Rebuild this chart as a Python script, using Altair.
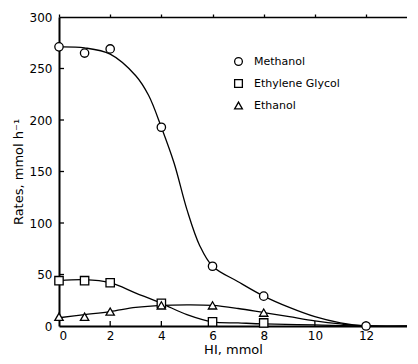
import altair as alt
import pandas as pd

# measured points
hi_meoh = [0, 1, 2, 4, 6, 8, 12]
rate_meoh = [271, 265, 269, 193, 58, 29, 0]
hi_eg = [0, 1, 2, 4, 6, 8]
rate_eg = [44, 44, 42, 22, 4, 3]
hi_etoh = [0, 1, 2, 4, 6, 8]
rate_etoh = [9, 9, 14, 20, 20, 13]

# fitted curves
curve_x_meoh = [0, 1, 2, 3, 3.5, 4, 4.5, 5, 5.5, 6, 7, 8, 9, 10, 11, 12, 14]
curve_y_meoh = [271, 270, 264, 243, 224, 193, 158, 113, 78, 58, 43, 29, 18, 9, 3, 0, 0]
curve_x_eg = [0, 1, 2, 3, 4, 5, 6, 7, 8, 10, 12, 14]
curve_y_eg = [44, 45, 42, 32, 22, 11, 4, 3, 2, 1, 0, 0]
curve_x_etoh = [0, 1, 2, 3, 4, 5, 6, 7, 8, 9, 10, 11, 12, 14]
curve_y_etoh = [8, 11, 14, 18, 20, 20.5, 20, 17, 13, 9, 5, 2, 0, 0]

series = ["Methanol", "Ethylene Glycol", "Ethanol"]
shapes = ["circle", "square", "triangle-up"]
inks = ["black", "black", "black"]

x_ticks = [0, 2, 4, 6, 8, 10, 12]
y_ticks = [0, 50, 100, 150, 200, 250, 300]

pts = pd.concat([
    pd.DataFrame({"HI": hi_meoh, "Rate": rate_meoh, "Series": series[0]}),
    pd.DataFrame({"HI": hi_eg, "Rate": rate_eg, "Series": series[1]}),
    pd.DataFrame({"HI": hi_etoh, "Rate": rate_etoh, "Series": series[2]}),
])
curves = pd.concat([
    pd.DataFrame({"HI": curve_x_meoh, "Rate": curve_y_meoh, "Series": series[0]}),
    pd.DataFrame({"HI": curve_x_eg, "Rate": curve_y_eg, "Series": series[1]}),
    pd.DataFrame({"HI": curve_x_etoh, "Rate": curve_y_etoh, "Series": series[2]}),
])
xt = pd.DataFrame({"HI": x_ticks[1:]})
yt = pd.DataFrame({"Rate": y_ticks[1:-1]})

xs = alt.Scale(domain=[0, 13.6], nice=False)
ys = alt.Scale(domain=[0, 300], nice=False)

xax = alt.Axis(values=x_ticks, title="HI, mmol", grid=False, ticks=False, labelPadding=4, titlePadding=2)
yax = alt.Axis(values=y_ticks, title="Rates, mmol h\u207b\u00b9", grid=False, ticks=False, labelPadding=7, titlePadding=4)

legend = alt.Legend(
    title=None, orient="none", legendX=174, legendY=39,
    labelFont="DejaVu Sans", labelFontSize=11, labelColor="black",
    symbolStrokeWidth=1.3, symbolSize=60, rowPadding=9, labelOffset=10,
)

lines = alt.Chart(curves).mark_line(
    interpolate="catmull-rom", color="black", strokeWidth=1.3, clip=True
).encode(
    x=alt.X("HI:Q", scale=xs, axis=xax),
    y=alt.Y("Rate:Q", scale=ys, axis=yax),
    detail="Series:N",
)

# top frame line (top axis without labels)
top_axis = alt.Chart(xt).mark_tick(opacity=0).encode(
    x=alt.X("HI:Q", scale=xs, axis=alt.Axis(orient="top", values=x_ticks, labels=False, title=None,
                                              grid=False, tickSize=3, domainWidth=1.5)),
)

# inward tick marks
xtick_bottom = alt.Chart(xt).mark_rule(color="black", strokeWidth=1.3).encode(
    x=alt.X("HI:Q", scale=xs, axis=None), y=alt.value(309), y2=alt.value(304),
)
ytick_left = alt.Chart(yt).mark_rule(color="black", strokeWidth=1.3).encode(
    y=alt.Y("Rate:Q", scale=ys, axis=yax), x=alt.value(0), x2=alt.value(5),
)

points = alt.Chart(pts).mark_point(
    filled=False, fill="white", fillOpacity=1, strokeWidth=1.3,
    size=70, opacity=1, clip=False
).encode(
    x=alt.X("HI:Q", scale=xs, axis=None),
    y=alt.Y("Rate:Q", scale=ys, axis=yax),
    shape=alt.Shape("Series:N", scale=alt.Scale(domain=series, range=shapes), sort=series, legend=legend),
    color=alt.Color("Series:N", scale=alt.Scale(domain=series, range=inks), sort=series, legend=legend),
)

chart = alt.layer(lines, top_axis, xtick_bottom, ytick_left, points).resolve_axis(
    x="independent"
).properties(
    width=348, height=309,
    padding={"left": 4, "top": 3, "right": 0, "bottom": 0},
).configure_view(
    stroke=None
).configure_axis(
    domainColor="black", domainWidth=2, tickColor="black", tickWidth=1.3,
    labelFont="DejaVu Sans", labelFontSize=12, labelColor="black",
    titleFont="DejaVu Sans", titleFontSize=13, titleFontWeight="normal", titleColor="black",
)

chart.save("out.html", embed_options={"renderer": "svg", "actions": False})
